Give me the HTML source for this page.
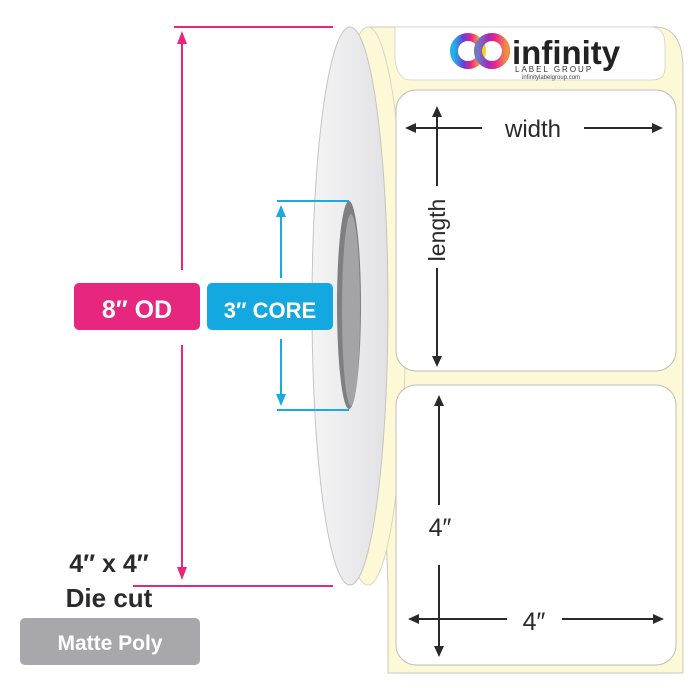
<!DOCTYPE html>
<html><head><style>
html,body{margin:0;padding:0;background:#fff;}
svg{display:block;}
text{font-family:"Liberation Sans","DejaVu Sans",sans-serif;}
</style></head><body>
<svg width="700" height="700" viewBox="0 0 700 700" xmlns="http://www.w3.org/2000/svg">
<defs>
<linearGradient id="rollg" x1="0" x2="1" y1="0" y2="0">
<stop offset="0" stop-color="#f4f4f5"/><stop offset="1" stop-color="#e2e2e4"/>
</linearGradient>
<linearGradient id="logo" x1="0" x2="1">
<stop offset="0" stop-color="#1fb3e8"/><stop offset="0.35" stop-color="#6a3bd6"/><stop offset="0.6" stop-color="#e8218c"/><stop offset="1" stop-color="#f7d21a"/>
</linearGradient>
</defs>
<path d="M368 27 L655 27 Q683 27 683 70 L683 673 L388 673 L388 586 Z" fill="#fdf9d6" stroke="#c9c9c0" stroke-width="1"/>
<ellipse cx="368" cy="306" rx="38" ry="279" fill="#fdf9d6" stroke="#d8d6c0"/>
<path d="M395 27 L650 27 Q665 27 665 45 L665 68 Q665 80 652 80 L410 80 Q398 80 395 60 Z" fill="#fff" stroke="#cfcfcf" stroke-width="0.8"/>
<rect x="396" y="90" width="280" height="281" rx="20" fill="#fff" stroke="#bdbdbd"/>
<rect x="396" y="385" width="280" height="280" rx="20" fill="#fff" stroke="#bdbdbd"/>
<ellipse cx="350" cy="306" rx="38" ry="279" fill="url(#rollg)" stroke="#c4c4c6"/>
<ellipse cx="349" cy="305" rx="12" ry="104" fill="#7f7f82"/>
<ellipse cx="351" cy="310" rx="9" ry="96" fill="#a4a4a7"/>
<circle cx="468" cy="51" r="14" fill="none" stroke="url(#logo)" stroke-width="8"/>
<circle cx="492" cy="51" r="14" fill="none" stroke="#e8218c" stroke-width="8"/>
<circle cx="492" cy="51" r="14" fill="none" stroke="url(#logo)" stroke-width="8" opacity="0.6"/>
<text x="512" y="64" font-size="33" font-weight="bold" fill="#222">infinity</text>
<text x="515" y="72" font-size="8" fill="#333" letter-spacing="2">LABEL GROUP</text>
<text x="522" y="79" font-size="6" fill="#444">infinitylabelgroup.com</text>
<g stroke="#2a2a2a" stroke-width="2" fill="#2a2a2a">
<line x1="412" y1="128" x2="482" y2="128"/><polygon points="405,128 416,123 416,133" stroke="none"/>
<line x1="584" y1="128" x2="654" y2="128"/><polygon points="663,128 652,123 652,133" stroke="none"/>
<line x1="437" y1="113" x2="437" y2="186"/><polygon points="437,106 432,117 442,117" stroke="none"/>
<line x1="437" y1="268" x2="437" y2="360"/><polygon points="437,367 432,356 442,356" stroke="none"/>
<line x1="439" y1="402" x2="439" y2="505"/><polygon points="439,395 434,406 444,406" stroke="none"/>
<line x1="439" y1="565" x2="439" y2="649"/><polygon points="439,657 434,646 444,646" stroke="none"/>
<line x1="416" y1="619" x2="507" y2="619"/><polygon points="408,619 419,614 419,624" stroke="none"/>
<line x1="562" y1="619" x2="655" y2="619"/><polygon points="664,619 653,614 653,624" stroke="none"/>
</g>
<text x="533" y="137" font-size="24" fill="#2a2a2a" text-anchor="middle">width</text>
<text transform="translate(445,230) rotate(-90)" font-size="23" fill="#2a2a2a" text-anchor="middle">length</text>
<text x="440" y="536" font-size="25" fill="#2a2a2a" text-anchor="middle">4″</text>
<text x="534" y="630" font-size="25" fill="#2a2a2a" text-anchor="middle">4″</text>
<g stroke="#e6267f" stroke-width="2" fill="#e6267f">
<line x1="174" y1="27" x2="333" y2="27"/>
<line x1="133" y1="586" x2="333" y2="586"/>
<line x1="182" y1="40" x2="182" y2="270"/><polygon points="182,31 177,44 187,44" stroke="none"/>
<line x1="182" y1="345" x2="182" y2="572"/><polygon points="182,580 177,567 187,567" stroke="none"/>
</g>
<g stroke="#1aa9e0" stroke-width="2" fill="#1aa9e0">
<line x1="277" y1="201" x2="349" y2="201"/>
<line x1="277" y1="410" x2="349" y2="410"/>
<line x1="281" y1="212" x2="281" y2="278"/><polygon points="281,205 276,217 286,217" stroke="none"/>
<line x1="281" y1="339" x2="281" y2="398"/><polygon points="281,406 276,394 286,394" stroke="none"/>
</g>
<rect x="74" y="283" width="126" height="47" rx="5" fill="#e6267f"/>
<text x="137" y="318" font-size="25" font-weight="bold" fill="#fff" text-anchor="middle">8″ OD</text>
<rect x="207" y="283" width="126" height="47" rx="5" fill="#14a8e0"/>
<text x="270" y="318" font-size="22" font-weight="bold" fill="#fff" text-anchor="middle">3″ CORE</text>
<text x="109" y="572" font-size="25" font-weight="bold" fill="#2a2a2a" text-anchor="middle">4″ x 4″</text>
<text x="109" y="607" font-size="26" font-weight="bold" fill="#2a2a2a" text-anchor="middle">Die cut</text>
<rect x="20" y="618" width="180" height="47" rx="5" fill="#a8a8ac"/>
<text x="110" y="650" font-size="21" font-weight="bold" fill="#fff" text-anchor="middle">Matte Poly</text>
</svg>
</body></html>
